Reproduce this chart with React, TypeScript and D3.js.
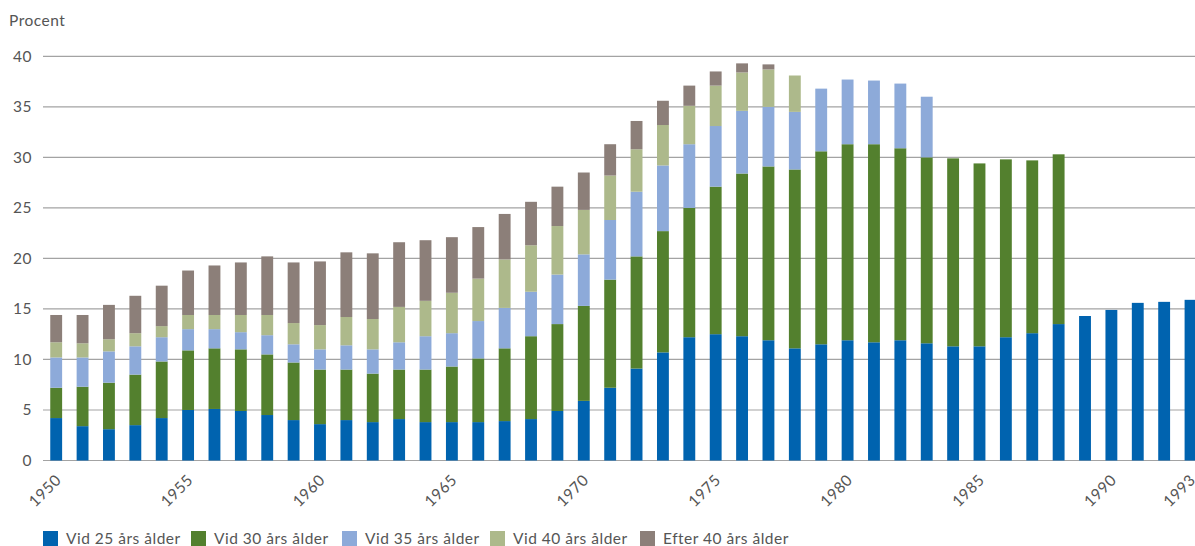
import React from 'react';
import * as d3 from 'd3';

const years = d3.range(1950, 1994);

const vid25 = [4.2, 3.4, 3.1, 3.5, 4.2, 5.0, 5.1, 4.9, 4.5, 4.0, 3.6, 4.0, 3.8, 4.1, 3.8, 3.8, 3.8, 3.9, 4.1, 4.9, 5.9, 7.2, 9.1, 10.7, 12.2, 12.5, 12.3, 11.9, 11.1, 11.5, 11.9, 11.7, 11.9, 11.6, 11.3, 11.3, 12.2, 12.6, 13.5, 14.3, 14.9, 15.6, 15.7, 15.9];
const vid30 = [3.0, 3.9, 4.6, 5.0, 5.6, 5.9, 6.0, 6.1, 6.0, 5.7, 5.4, 5.0, 4.8, 4.9, 5.2, 5.5, 6.3, 7.2, 8.2, 8.6, 9.4, 10.7, 11.1, 12.0, 12.8, 14.6, 16.1, 17.2, 17.7, 19.1, 19.4, 19.6, 19.0, 18.4, 18.6, 18.1, 17.6, 17.1, 16.8, 0, 0, 0, 0, 0];
const vid35 = [3.0, 2.9, 3.1, 2.8, 2.4, 2.1, 1.9, 1.7, 1.9, 1.8, 2.0, 2.4, 2.4, 2.7, 3.3, 3.3, 3.7, 4.0, 4.4, 4.9, 5.1, 5.9, 6.4, 6.5, 6.3, 6.0, 6.2, 5.9, 5.7, 6.2, 6.4, 6.3, 6.4, 6.0, 0, 0, 0, 0, 0, 0, 0, 0, 0, 0];
const vid40 = [1.5, 1.4, 1.2, 1.3, 1.1, 1.4, 1.4, 1.7, 2.0, 2.1, 2.4, 2.8, 3.0, 3.5, 3.5, 4.0, 4.2, 4.8, 4.6, 4.8, 4.4, 4.4, 4.2, 4.0, 3.8, 4.0, 3.8, 3.7, 3.6, 0, 0, 0, 0, 0, 0, 0, 0, 0, 0, 0, 0, 0, 0, 0];
const efter40 = [2.7, 2.8, 3.4, 3.7, 4.0, 4.4, 4.9, 5.2, 5.8, 6.0, 6.3, 6.4, 6.5, 6.4, 6.0, 5.5, 5.1, 4.5, 4.3, 3.9, 3.7, 3.1, 2.8, 2.4, 2.0, 1.4, 0.9, 0.5, 0, 0, 0, 0, 0, 0, 0, 0, 0, 0, 0, 0, 0, 0, 0, 0];

const seriesNames = ['Vid 25 års ålder', 'Vid 30 års ålder', 'Vid 35 års ålder', 'Vid 40 års ålder', 'Efter 40 års ålder'];
const seriesColors = ['#0063af', '#53802e', '#8daad9', '#adb98b', '#8c7f79'];
const yTicks = [0, 5, 10, 15, 20, 25, 30, 35, 40];
const xTickYears = [1950, 1955, 1960, 1965, 1970, 1975, 1980, 1985, 1990, 1993];

const W = 1195;
const H = 546;
const FONT = 'Lato, "Open Sans", sans-serif';

export default function App() {
  const keys = ['v25', 'v30', 'v35', 'v40', 'e40'];
  const cols = [vid25, vid30, vid35, vid40, efter40];
  const rows = years.map((y, i) => {
    const r: any = { year: y };
    keys.forEach((k, j) => (r[k] = cols[j][i]));
    return r;
  });
  const stacked = d3.stack<any>().keys(keys)(rows);

  const step = 26.38;
  const x = d3.scaleBand<number>()
    .domain(years)
    .range([43, 43 + years.length * step])
    .paddingInner(0.55)
    .paddingOuter(0.275);
  const y = d3.scaleLinear().domain([0, 40]).range([460.5, 56.3]);

  const txt = { fontSize: 15.5, fill: '#555', letterSpacing: 0.5 };

  return (
    <svg width={W} height={H} style={{ position: 'absolute', left: 0, top: 0, fontFamily: FONT }}>
      <text x={9} y={26} {...txt}>Procent</text>
      {yTicks.map(t => (
        <g key={t}>
          <line x1={43} x2={W} y1={y(t)} y2={y(t)} stroke="#a3a3a3" strokeWidth={1.2} />
          <text x={32} y={y(t)} dy="0.35em" textAnchor="end" {...txt}>{t}</text>
        </g>
      ))}
      {stacked.map((s, j) => (
        <g key={s.key} fill={seriesColors[j]}>
          {s.map((d, i) => (d[1] - d[0] > 0 ? (
            <rect key={i} x={x(years[i])} width={x.bandwidth()} y={y(d[1])} height={y(d[0]) - y(d[1])} />
          ) : null))}
        </g>
      ))}
      {xTickYears.map(yr => {
        const cx = (x(yr) as number) + x.bandwidth() / 2 + 6;
        return (
          <text key={yr} transform={`translate(${cx},${481}) rotate(-45)`} textAnchor="end" {...txt}>{yr}</text>
        );
      })}
      {seriesNames.map((n, j) => {
        const lx = [43, 191, 342, 490, 640][j];
        return (
          <g key={n}>
            <rect x={lx} y={531} width={15} height={15} fill={seriesColors[j]} />
            <text x={lx + 23} y={544} {...txt}>{n}</text>
          </g>
        );
      })}
    </svg>
  );
}
